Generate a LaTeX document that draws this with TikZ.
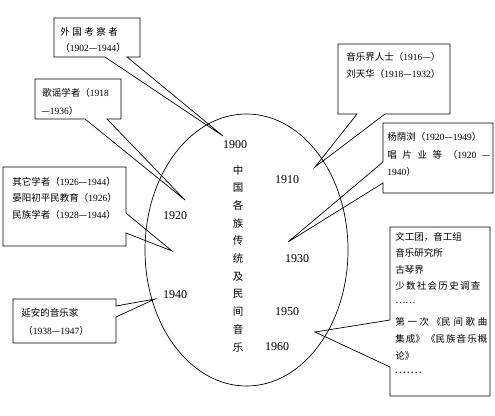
\documentclass[tikz,border=0pt]{standalone}
\usepackage{fontspec}
\setmainfont{Liberation Serif}
\newfontfamily\cjk{Noto Sans CJK SC}
\usetikzlibrary{shapes.geometric}
\newcommand\ZH[1]{{\cjk #1}}
\begin{document}
\begin{tikzpicture}[x=1pt,y=-1pt,line width=0.7pt,
  callout/.style={draw=black,line join=miter},
  txt/.style={anchor=west,inner sep=0pt,font=\fontsize{9.5}{11}\selectfont},
  yr/.style={inner sep=0pt,font=\fontsize{12}{14}\selectfont},
  oval/.style={ellipse,draw=black,inner sep=0pt,minimum width=203pt,minimum height=272pt}]
\useasboundingbox (0,0) rectangle (495,415);
\fill[white] (0,0) rectangle (495,415);
% central ellipse
\node[oval] (ov) at (246.5,250) {};
\node[inner sep=0pt,align=center,font=\cjk\fontsize{10.5}{17.7}\selectfont] (title) at (238,258.5)
  {中\\国\\各\\族\\传\\统\\及\\民\\间\\音\\乐};
% years
\node[yr] (y1900) at (235,145) {1900};
\node[yr] (y1910) at (287,180) {1910};
\node[yr] (y1920) at (175,216) {1920};
\node[yr] (y1930) at (297,259) {1930};
\node[yr] (y1940) at (175,295) {1940};
\node[yr] (y1950) at (287,312) {1950};
\node[yr] (y1960) at (277,347) {1960};
% pointer tips
\coordinate (t1) at (223,136);
\coordinate (t2) at (185,200);
\coordinate (t3) at (172,251);
\coordinate (t4) at (155,299);
\coordinate (t5) at (315,167);
\coordinate (t6) at (288,242);
\coordinate (t7) at (315,332);
% callouts
\draw[callout] (54,18) -- (140,18) -- (140,57) -- (127,57) -- (t1) -- (105,57) -- (54,57) -- cycle;
\draw[callout] (35,79) -- (121,79) -- (121,119) -- (107,119) -- (t2) -- (85,119) -- (35,119) -- cycle;
\draw[callout] (3,167) -- (126,167) -- (126,213) -- (t3) -- (126,233) -- (126,246) -- (3,246) -- cycle;
\draw[callout] (13,299) -- (116,299) -- (116,306) -- (t4) -- (116,317) -- (116,343) -- (13,343) -- cycle;
\draw[callout] (338,44) -- (450,44) -- (450,114) -- (385,114) -- (t5) -- (357,114) -- (338,114) -- cycle;
\draw[callout] (383,123) -- (493,123) -- (493,193) -- (383,193) -- (383,183) -- (t6) -- (383,162) -- cycle;
\draw[callout] (390,227) -- (490,227) -- (490,396) -- (390,396) -- (390,367) -- (t7) -- (390,320) -- cycle;
% box texts
\node[txt] (b1a) at (60,32) {\ZH{外\hspace{2.5pt}国\hspace{2.5pt}考\hspace{2.5pt}察\hspace{2.5pt}者}};
\node[txt] (b1b) at (60,48) {\ZH{（}1902\ZH{—}1944\ZH{）}};
\node[txt] (b2a) at (42,93) {\ZH{歌谣学者（}1918};
\node[txt] (b2b) at (41,111) {\ZH{—}1936\ZH{）}};
\node[txt] (b3a) at (12,182) {\ZH{其它学者（}1926\ZH{—}1944\ZH{）}};
\node[txt] (b3b) at (12,198) {\ZH{晏阳初平民教育（}1926\ZH{）}};
\node[txt] (b3c) at (12,215) {\ZH{民族学者（}1928\ZH{—}1944\ZH{）}};
\node[txt] (b4a) at (21,313) {\ZH{延安的音乐家}};
\node[txt] (b4b) at (23,331) {\ZH{（}1938\ZH{—}1947\ZH{）}};
\node[txt] (b5a) at (346,57) {\ZH{音乐界人士（}1916\ZH{—）}};
\node[txt] (b5b) at (346,74) {\ZH{刘天华（}1918\ZH{—}1932\ZH{）}};
\node[txt] (b6a) at (387,137) {\ZH{杨荫浏（}1920\ZH{—}1949\ZH{）}};
\node[txt] (b6b) at (387,155) {\makebox[103pt][s]{\ZH{唱}\hfill\ZH{片}\hfill\ZH{业}\hfill\ZH{等}\hfill\ZH{（}1920\hfill\ZH{—}}};
\node[txt] (b6c) at (387,172) {1940\ZH{）}};
\node[txt] (b7a) at (395,237) {\ZH{文工团，音工组}};
\node[txt] (b7b) at (395,253) {\ZH{音乐研究所}};
\node[txt] (b7c) at (395,270) {\ZH{古琴界}};
\node[txt] (b7d) at (395,286) {\makebox[85pt][s]{\ZH{少}\hfill\ZH{数}\hfill\ZH{社}\hfill\ZH{会}\hfill\ZH{历}\hfill\ZH{史}\hfill\ZH{调}\hfill\ZH{查}}};
\node[txt] (b7e) at (395,303) {\ZH{……}};
\node[txt] (b7f) at (395,322) {\makebox[92pt][s]{\ZH{第}\hfill\ZH{一}\hfill\ZH{次}\hfill\ZH{《民}\hfill\ZH{间}\hfill\ZH{歌}\hfill\ZH{曲}}};
\node[txt] (b7g) at (395,339) {\makebox[92pt][s]{\ZH{集}\hfill\ZH{成》}\hfill\ZH{《民}\hfill\ZH{族}\hfill\ZH{音}\hfill\ZH{乐}\hfill\ZH{概}}};
\node[txt] (b7h) at (395,356) {\ZH{论》}};
\node[txt] (b7i) at (395,373) {\textbf{.\,.\,.\,.\,.\,.\,.}};
\end{tikzpicture}
\end{document}
